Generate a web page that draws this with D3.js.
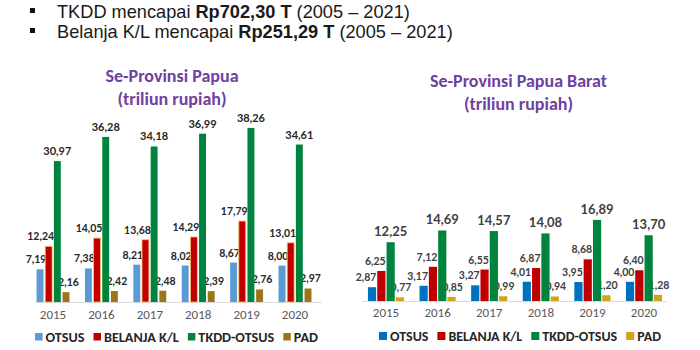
<!DOCTYPE html>
<html><head><meta charset="utf-8">
<script src="https://cdn.jsdelivr.net/npm/d3@7"></script>
<style>
html,body{margin:0;padding:0;background:#fff;}
svg{display:block;}
</style></head>
<body>
<svg id="chart" width="700" height="350"></svg>
<script>
// ---- data ----
const years = ["2015", "2016", "2017", "2018", "2019", "2020"];
const seriesNames = ["OTSUS", "BELANJA K/L", "TKDD-OTSUS", "PAD"];
const headerLines = [
  ["TKDD mencapai ", "Rp702,30 T", " (2005 – 2021)"],
  ["Belanja K/L mencapai ", "Rp251,29 T", " (2005 – 2021)"]
];
const papuaTitle = ["Se-Provinsi Papua", "(triliun rupiah)"];
const papuaOtsus   = [7.19, 7.38, 8.21, 8.02, 8.67, 8.00];
const papuaBelanja = [12.24, 14.05, 13.68, 14.29, 17.79, 13.01];
const papuaTkdd    = [30.97, 36.28, 34.18, 36.99, 38.26, 34.61];
const papuaPad     = [2.16, 2.42, 2.48, 2.39, 2.76, 2.97];
const baratTitle = ["Se-Provinsi Papua Barat", "(triliun rupiah)"];
const baratOtsus   = [2.87, 3.17, 3.27, 4.01, 3.95, 4.00];
const baratBelanja = [6.25, 7.12, 6.55, 6.87, 8.68, 6.40];
const baratTkdd    = [12.25, 14.69, 14.57, 14.08, 16.89, 13.70];
const baratPad     = [0.77, 0.85, 0.99, 0.94, 1.20, 1.28];

// ---- drawing ----
const svg = d3.select("#chart");
const fmt = v => d3.format(".2f")(v).replace(".", ",");
const labelFont = "'Liberation Sans Narrow', 'Arial Narrow', Lato, sans-serif";
const uiFont = "Carlito, Lato, sans-serif";

// header
const hdr = svg.append("g");
headerLines.forEach((parts, i) => {
  const y = 17.5 + i * 20;
  hdr.append("rect").attr("x", 30).attr("y", y - 9.5).attr("width", 5).attr("height", 5).attr("fill", "#111");
  const t = hdr.append("text").attr("x", 57).attr("y", y)
    .attr("font-family", "'Liberation Sans', Arial, sans-serif").attr("font-size", 18.2).attr("fill", "#1a1a1a");
  parts.forEach((p, j) => t.append("tspan").text(p).attr("font-weight", j === 1 ? "bold" : "normal"));
});

const panels = [
  {
    title: papuaTitle, titleX: 172, titleY: [81.5, 104.5],
    series: [papuaOtsus, papuaBelanja, papuaTkdd, papuaPad],
    colors: ["#5b9bd5", "#c00000", "#00843d", "#9c7518"],
    range: [28.8, 319.2], padIn: 0.32, barPad: 0.2,
    yDomain: [0, 40], baseline: 302, top: 120,
    axisX: [35, 322], yearY: 323, legendY: 341.5, legendCx: 176.5, legendFs: 14.2, sq: 7.5,
    labelDx: [-4, -8, 0, 2.5], labelFs: [10.5, 10.5, 11, 10.5], labelColor: "#262626",
    redStroke: true
  },
  {
    title: baratTitle, titleX: 518.5, titleY: [86.5, 109.5],
    series: [baratOtsus, baratBelanja, baratTkdd, baratPad],
    colors: ["#0070c0", "#c00000", "#00843d", "#d4a31a"],
    range: [360.2, 669.8], padIn: 0.30, barPad: 0.12,
    yDomain: [0, 20], baseline: 301, top: 205,
    axisX: [362, 667], yearY: 320.5, legendY: 341, legendCx: 520, legendFs: 14, sq: 8,
    labelDx: [-6, -6, 0, 1], labelFs: [10.5, 10.5, 13, 10.5], labelColor: "#404040",
    redStroke: false
  }
];

panels.forEach(p => {
  const g = svg.append("g");
  // title
  p.title.forEach((t, i) => {
    g.append("text").attr("x", p.titleX).attr("y", p.titleY[i]).attr("text-anchor", "middle")
      .attr("font-family", uiFont).attr("font-weight", "bold").attr("font-size", 18)
      .attr("fill", "#7040a0").text(t);
  });

  const x0 = d3.scaleBand().domain(years).range(p.range).paddingInner(p.padIn).paddingOuter(p.padIn / 2);
  const x1 = d3.scaleBand().domain(seriesNames).range([0, x0.bandwidth()]).paddingInner(p.barPad);
  const y = d3.scaleLinear().domain(p.yDomain).range([p.baseline, p.top]);

  const rows = [];
  years.forEach((yr, i) => seriesNames.forEach((s, k) => rows.push({ yr, s, k, v: p.series[k][i] })));

  // labels (drawn beneath bars, as in the reference)
  g.append("g").selectAll("text").data(rows).join("text")
    .attr("x", d => x0(d.yr) + x1(d.s) + x1.bandwidth() / 2 + p.labelDx[d.k])
    .attr("y", d => y(d.v) - 6)
    .attr("text-anchor", "middle")
    .attr("font-family", labelFont).attr("font-weight", "bold")
    .attr("font-size", d => p.labelFs[d.k]).attr("fill", p.labelColor)
    .text(d => fmt(d.v));

  // axis line
  g.append("line").attr("x1", p.axisX[0]).attr("x2", p.axisX[1])
    .attr("y1", p.baseline + 0.5).attr("y2", p.baseline + 0.5)
    .attr("stroke", "#d9d9d9").attr("stroke-width", 1);

  // bars
  g.append("g").selectAll("rect").data(rows).join("rect")
    .attr("x", d => x0(d.yr) + x1(d.s))
    .attr("y", d => y(d.v))
    .attr("width", x1.bandwidth())
    .attr("height", d => y(0) - y(d.v))
    .attr("fill", d => p.colors[d.k])
    .attr("stroke", d => (p.redStroke && d.k === 1) ? "#f7c46c" : "none")
    .attr("stroke-width", 0.8);

  // year axis labels via d3 axis
  const ax = g.append("g").attr("transform", `translate(0,${p.yearY - 13})`)
    .call(d3.axisBottom(x0).tickSize(0).tickPadding(0));
  ax.select(".domain").remove();
  ax.selectAll("text").attr("font-family", uiFont).attr("font-size", 13)
    .attr("fill", "#595959").attr("dy", "0.71em");

  // legend
  const lg = g.append("g");
  let cx = 0;
  seriesNames.forEach((s, k) => {
    lg.append("rect").attr("x", cx).attr("y", p.legendY - p.sq - 1).attr("width", p.sq).attr("height", p.sq)
      .attr("fill", p.colors[k]);
    cx += p.sq + 3;
    const t = lg.append("text").attr("x", cx).attr("y", p.legendY)
      .attr("font-family", uiFont).attr("font-weight", "bold").attr("font-size", p.legendFs)
      .attr("fill", "#262626").text(s);
    cx += t.node().getComputedTextLength() + 9;
  });
  const total = cx - 9;
  lg.attr("transform", `translate(${p.legendCx - total / 2},0)`);
});
</script>
</body></html>
